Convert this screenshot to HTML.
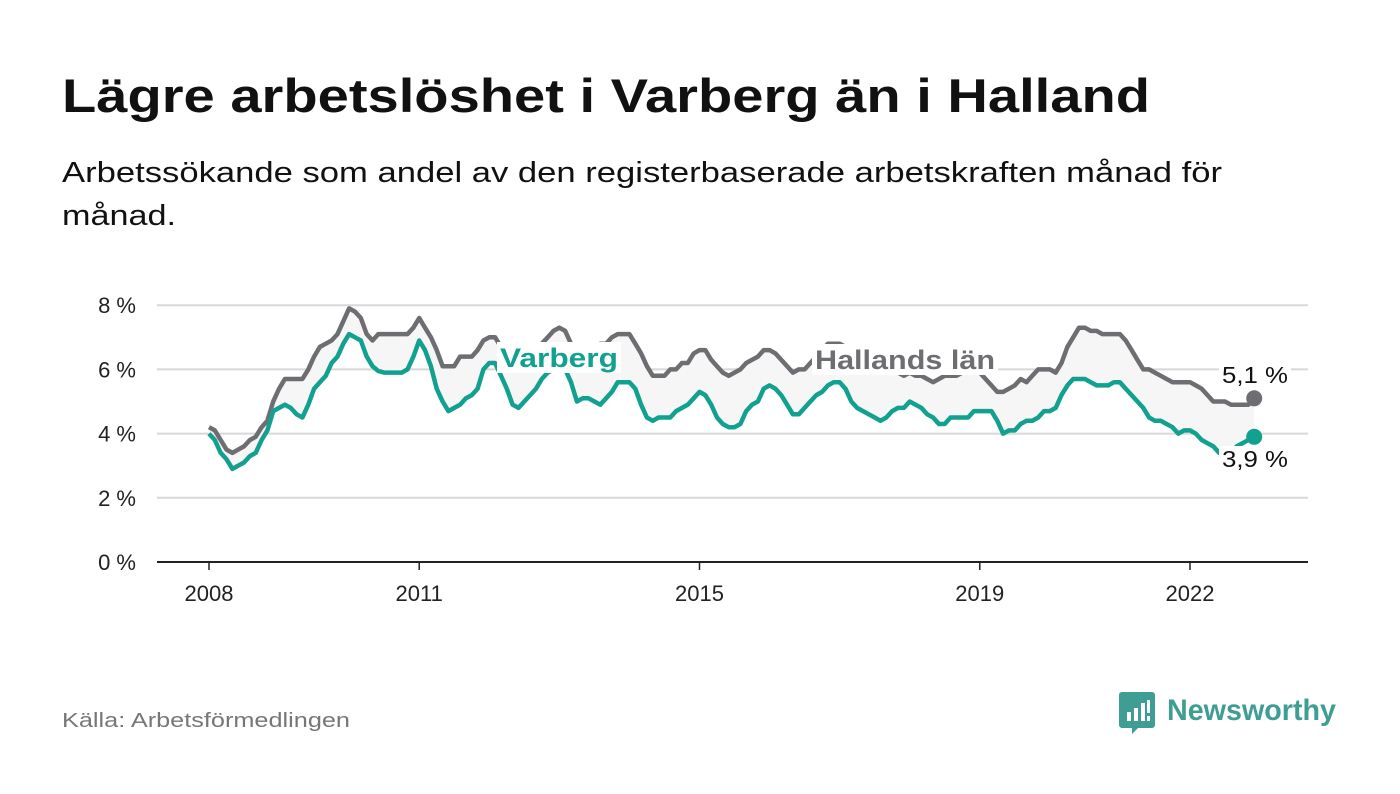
<!DOCTYPE html>
<html><head><meta charset="utf-8"><style>
html,body{margin:0;padding:0;background:#fff;}
svg{display:block;font-family:"Liberation Sans",sans-serif;}
</style></head><body>
<svg id="chart" width="1400" height="794" viewBox="0 0 1400 794" xmlns="http://www.w3.org/2000/svg">
<text x="62" y="112" font-size="47" font-weight="bold" fill="#111" textLength="1088" lengthAdjust="spacingAndGlyphs">Lägre arbetslöshet i Varberg än i Halland</text>
<text x="62" y="182" font-size="29" fill="#111" textLength="1160" lengthAdjust="spacingAndGlyphs">Arbetssökande som andel av den registerbaserade arbetskraften månad för</text>
<text x="62" y="225" font-size="29" fill="#111" textLength="114" lengthAdjust="spacingAndGlyphs">månad.</text>
<g id="grid"></g>
<g id="plot"></g>
<g id="labels"></g>
<text x="62" y="727" font-size="20" fill="#777" textLength="288" lengthAdjust="spacingAndGlyphs">Källa: Arbetsförmedlingen</text>
<g>
<path d="M1122 692 h30 a3 3 0 0 1 3 3 v30 a3 3 0 0 1 -3 3 h-14 l-6 6 v-6 h-10 a3 3 0 0 1 -3 -3 v-30 a3 3 0 0 1 3 -3z" fill="#3e9e93"/>
<rect x="1127" y="712" width="4" height="9" fill="#fff"/><rect x="1134" y="708" width="4" height="13" fill="#fff"/><rect x="1141" y="703" width="4" height="18" fill="#fff"/><rect x="1147" y="700" width="3" height="13" fill="#fff"/><rect x="1147" y="716" width="3" height="5" fill="#fff"/>
<text x="1167" y="720" font-size="30" font-weight="bold" fill="#3e9e93" textLength="169" lengthAdjust="spacingAndGlyphs">Newsworthy</text>
</g>
</svg>
<script>
const startYear = 2008;
const yTicks = [0, 2, 4, 6, 8];
const xTickYears = [2008, 2011, 2015, 2019, 2022];
const halland = [
4.2,4.1,3.8,3.5,3.4,3.5,3.6,3.8,3.9,4.2,4.4,5.0,
5.4,5.7,5.7,5.7,5.7,6.0,6.4,6.7,6.8,6.9,7.1,7.5,
7.9,7.8,7.6,7.1,6.9,7.1,7.1,7.1,7.1,7.1,7.1,7.3,
7.6,7.3,7.0,6.6,6.1,6.1,6.1,6.4,6.4,6.4,6.6,6.9,
7.0,7.0,6.7,6.6,6.6,6.6,6.6,6.7,6.7,6.8,7.0,7.2,
7.3,7.2,6.8,6.5,6.4,6.6,6.7,6.8,6.8,7.0,7.1,7.1,
7.1,6.8,6.5,6.1,5.8,5.8,5.8,6.0,6.0,6.2,6.2,6.5,
6.6,6.6,6.3,6.1,5.9,5.8,5.9,6.0,6.2,6.3,6.4,6.6,
6.6,6.5,6.3,6.1,5.9,6.0,6.0,6.2,6.4,6.6,6.8,6.8,
6.8,6.7,6.5,6.3,6.1,6.0,5.9,5.9,6.0,6.0,5.9,5.8,
5.9,5.8,5.8,5.7,5.6,5.7,5.8,5.8,5.8,5.9,6.0,6.0,
5.9,5.7,5.5,5.3,5.3,5.4,5.5,5.7,5.6,5.8,6.0,6.0,
6.0,5.9,6.2,6.7,7.0,7.3,7.3,7.2,7.2,7.1,7.1,7.1,
7.1,6.9,6.6,6.3,6.0,6.0,5.9,5.8,5.7,5.6,5.6,5.6,
5.6,5.5,5.4,5.2,5.0,5.0,5.0,4.9,4.9,4.9,4.9,5.1];
const varberg = [
4.0,3.8,3.4,3.2,2.9,3.0,3.1,3.3,3.4,3.8,4.1,4.7,
4.8,4.9,4.8,4.6,4.5,4.9,5.4,5.6,5.8,6.2,6.4,6.8,
7.1,7.0,6.9,6.4,6.1,5.95,5.9,5.9,5.9,5.9,6.0,6.4,
6.9,6.6,6.1,5.4,5.0,4.7,4.8,4.9,5.1,5.2,5.4,6.0,
6.2,6.2,5.8,5.4,4.9,4.8,5.0,5.2,5.4,5.7,5.9,6.0,
6.1,6.0,5.6,5.0,5.1,5.1,5.0,4.9,5.1,5.3,5.6,5.6,
5.6,5.4,4.9,4.5,4.4,4.5,4.5,4.5,4.7,4.8,4.9,5.1,
5.3,5.2,4.9,4.5,4.3,4.2,4.2,4.3,4.7,4.9,5.0,5.4,
5.5,5.4,5.2,4.9,4.6,4.6,4.8,5.0,5.2,5.3,5.5,5.6,
5.6,5.4,5.0,4.8,4.7,4.6,4.5,4.4,4.5,4.7,4.8,4.8,
5.0,4.9,4.8,4.6,4.5,4.3,4.3,4.5,4.5,4.5,4.5,4.7,
4.7,4.7,4.7,4.4,4.0,4.1,4.1,4.3,4.4,4.4,4.5,4.7,
4.7,4.8,5.2,5.5,5.7,5.7,5.7,5.6,5.5,5.5,5.5,5.6,
5.6,5.4,5.2,5.0,4.8,4.5,4.4,4.4,4.3,4.2,4.0,4.1,
4.1,4.0,3.8,3.7,3.6,3.4,3.3,3.4,3.6,3.7,3.8,3.9];
const NS="http://www.w3.org/2000/svg";
const X0=209, YEARPX=70.07, Y0=562, PCT=32.1;
function xScale(i){return X0 + (i/12)*YEARPX;}
function xYear(y){return X0 + (y-startYear)*YEARPX;}
function yScale(v){return Y0 - v*PCT;}
function mk(tag,attrs,parent){const e=document.createElementNS(NS,tag);for(const k in attrs)e.setAttribute(k,attrs[k]);parent.appendChild(e);return e;}
const gridG=document.getElementById('grid'), plotG=document.getElementById('plot'), labelsG=document.getElementById('labels');
yTicks.forEach(t=>{
  const l=mk('line',{x1:157,x2:1308,y1:yScale(t),y2:yScale(t),stroke:t===0?'#222':'#d8d8d8','stroke-width':2},gridG);
  
  
  const tx=mk('text',{x:136,y:yScale(t)+8,'text-anchor':'end','font-size':22,fill:'#222'},gridG);
  tx.textContent=t+' %';
  
  
});
xTickYears.forEach(yr=>{
  const x=xYear(yr);
  const tk=mk('line',{x1:x,x2:x,y1:562,y2:570,stroke:'#222','stroke-width':1.5},gridG);
  
  
  const tx=mk('text',{x:x,y:601,'text-anchor':'middle','font-size':22,fill:'#222'},gridG);
  tx.textContent=yr;
  
  
});
const hallPts=halland.map((v,i)=>xScale(i).toFixed(1)+','+yScale(v).toFixed(1));
const varPts=varberg.map((v,i)=>xScale(i).toFixed(1)+','+yScale(v).toFixed(1));
const area=mk('polygon',{points:hallPts.concat(varPts.slice().reverse()).join(' '),fill:'#f6f6f6'},plotG);


const hl=mk('polyline',{points:hallPts.join(' '),fill:'none',stroke:'#6e6d72','stroke-width':4.5,'stroke-linejoin':'round'},plotG);


const vl=mk('polyline',{points:varPts.join(' '),fill:'none',stroke:'#12a090','stroke-width':4.5,'stroke-linejoin':'round'},plotG);


const n=halland.length-1;
const hd=mk('circle',{cx:xScale(n),cy:yScale(halland[n]),r:8,fill:'#6e6d72'},plotG);


const vd=mk('circle',{cx:xScale(n),cy:yScale(varberg[n]),r:8,fill:'#12a090'},plotG);


function label(txt,x,y,size,weight,color,name,w){
  const r=mk('rect',{x:x-3,y:y-size+2,width:w+6,height:size+4,fill:'#fff'},labelsG);
  
  
  const t=mk('text',{x:x,y:y,'font-size':size,'font-weight':weight,fill:color,textLength:w,lengthAdjust:'spacingAndGlyphs'},labelsG);
  t.textContent=txt;
  
  
}
label('Varberg',500,367,27,'bold','#12a090','varberg-series-label',118);
label('Hallands län',815,369,27,'bold','#6e6d72','hallands-series-label',180);
label(String(halland[n]).replace('.',',')+' %',1222,383,23,'normal','#111','hallands-end-value',66);
label(String(varberg[n]).replace('.',',')+' %',1222,467,23,'normal','#111','varberg-end-value',66);
</script>
</body></html>
